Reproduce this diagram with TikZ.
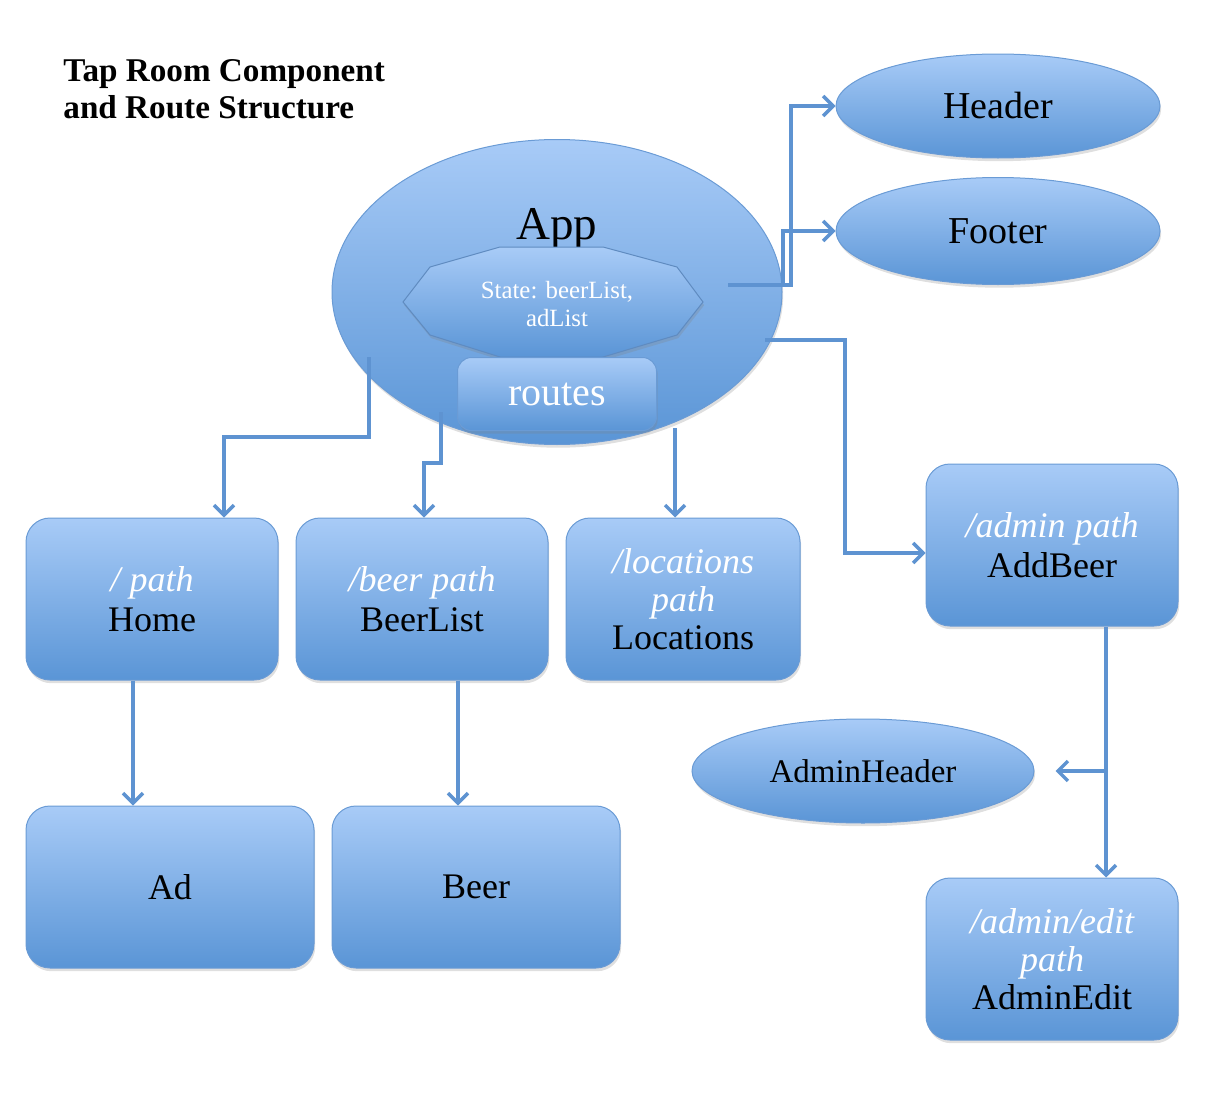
\documentclass[tikz,border=0pt]{standalone}
\usepackage{fontspec}
\setmainfont{Liberation Serif}
\usetikzlibrary{shapes.geometric,shadows,arrows.meta}
\definecolor{bluetop}{HTML}{A8CBF7}
\definecolor{bluebot}{HTML}{5A95D6}
\definecolor{blueline}{HTML}{6A9BD5}
\definecolor{conncol}{HTML}{5E93D1}
\tikzset{
  blob/.style={draw=blueline, line width=0.5pt, top color=bluetop, bottom color=bluebot,
    drop shadow={shadow xshift=0.6pt, shadow yshift=-1.6pt, opacity=0.25}},
  compbox/.style={blob, rounded corners=12pt, minimum width=126pt, minimum height=81pt,
    inner sep=0pt, align=center, font=\fontsize{18}{20}\selectfont},
  compell/.style={blob, ellipse, inner sep=0pt, minimum width=162pt, minimum height=52pt,
    font=\fontsize{19}{22}\selectfont},
  conn/.style={draw=conncol, line width=1.7pt, -{Straight Barb[length=5pt,width=10pt]}}
}
\newcommand{\pth}[1]{\textcolor{white}{\itshape #1}}
\begin{document}
\begin{tikzpicture}[x=0.5pt, y=-0.5pt]
    \useasboundingbox (0,0) rectangle (1222,1108);
    % title
    \node[anchor=north west, align=left, inner sep=0pt, font=\bfseries\fontsize{16.6}{18.5}\selectfont] (title) at (63,59) {Tap Room Component\\and Route Structure};
    % app with state and routes
    \node[blob, ellipse, inner sep=0pt, minimum width=225pt, minimum height=152.5pt] (app) at (557,292) {};
    \node[font=\fontsize{23.5}{26}\selectfont] (apptitle) at (557,229) {App};
    \draw[blob, draw=blueline!90!black] (500,247) -- (430,267) -- (403,302) -- (430,335) -- (500,357) -- (603,357) -- (677,335) -- (703,302) -- (677,267) -- (603,247) -- cycle;
    \node[text=white, align=center, font=\fontsize{12.4}{14}\selectfont] (state) at (557,304) {State: beerList,\\adList};
    \node[blob, rounded corners=7pt, minimum width=99.5pt, minimum height=36.5pt, text=white, font=\fontsize{20}{22}\selectfont] (routes) at (557,394) {routes};
    % header, footer
    \node[compell] (header) at (998,106) {Header};
    \node[compell, minimum height=53.5pt] (footer) at (998,231) {Footer};
    \node[compell, minimum width=171pt, font=\fontsize{16.5}{20}\selectfont] (adminheader) at (863,771) {AdminHeader};
    % routed components
    \node[compbox] (home) at (152,599) {\pth{/ path}\\Home};
    \node[compbox] (beerlist) at (422,599) {\pth{/beer path}\\BeerList};
    \node[compbox, minimum width=117pt, font=\fontsize{18}{19}\selectfont] (locations) at (683,599) {\pth{/locations}\\\pth{path}\\Locations};
    \node[compbox] (addbeer) at (1052,545) {\pth{/admin path}\\AddBeer};
    \node[compbox, minimum width=144pt] (ad) at (170,887) {Ad};
    \node[compbox, minimum width=144pt] (beer) at (476,887) {Beer};
    \node[compbox, font=\fontsize{18}{19}\selectfont] (adminedit) at (1052,959) {\pth{/admin/edit}\\\pth{path}\\AdminEdit};
    % connectors
    \coordinate (appR) at (728,285);
    \coordinate (appR2) at (765,340);
    \coordinate (appL) at (369,357);
    \coordinate (appM) at (441,412);
    \coordinate (appB) at (675,428);
    \draw[conn] (appR) -- ++(63,0) |- (header.west);
    \draw[conn] (appR) -- ++(55,0) |- (footer.west);
    \draw[conn] (appR2) -- ++(80,0) |- ([yshift=-4pt]addbeer.west);
    \draw[conn] (appL) -- ++(0,80) -| ([xshift=36pt]home.north);
    \draw[conn] (appM) -- ++(0,51) -| ([xshift=1pt]beerlist.north);
    \draw[conn] (appB) -- (appB |- locations.north);
    \coordinate (homeout) at ([xshift=-9.5pt]home.south);
    \coordinate (beerout) at ([xshift=18pt]beerlist.south);
    \coordinate (addout) at ([xshift=27pt]addbeer.south);
    \draw[conn] (homeout) -- (homeout |- ad.north);
    \draw[conn] (beerout) -- (beerout |- beer.north);
    \draw[conn] (addout) -- (addout |- adminedit.north);
    \draw[conn] (addout |- adminheader.east) -- ([xshift=10.5pt]adminheader.east);
\end{tikzpicture}
\end{document}
